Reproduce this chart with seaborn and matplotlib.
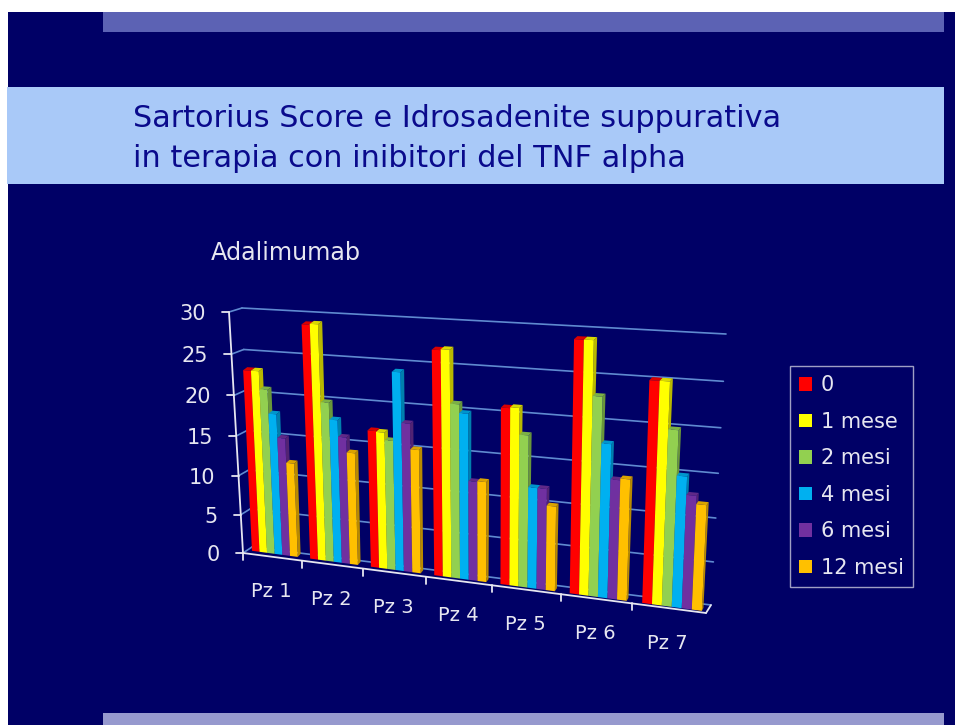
import numpy as np
import pandas as pd
import matplotlib
matplotlib.use("Agg")
import matplotlib.pyplot as plt
import seaborn as sns
from matplotlib.colors import to_rgb
from matplotlib.lines import Line2D
from matplotlib.patches import Polygon, Rectangle
from matplotlib.transforms import IdentityTransform, Transform

pazienti = ["Pz 1", "Pz 2", "Pz 3", "Pz 4", "Pz 5", "Pz 6", "Pz 7"]
tempi = ["0", "1 mese", "2 mesi", "4 mesi", "6 mesi", "12 mesi"]
colori = ["#FF0000", "#FFFF00", "#92D050", "#00B0F0", "#7030A0", "#FFC000"]
tick_y = [0, 5, 10, 15, 20, 25, 30]

mese_0 = [22.8, 28.7, 16.7, 26.6, 20.6, 28.6, 24.7]
mese_1 = [22.8, 28.8, 16.6, 26.7, 20.7, 28.6, 24.7]
mese_2 = [20.6, 19.6, 15.7, 20.6, 17.7, 22.6, 19.6]
mese_4 = [17.7, 17.6, 23.8, 19.6, 11.8, 17.5, 14.7]
mese_6 = [14.8, 15.6, 17.9, 11.8, 11.8, 13.6, 12.7]
mese_12 = [11.8, 13.8, 14.9, 11.9, 9.9, 13.8, 11.8]

W, H = 955, 725
NAVY = "#000066"
WHITE = "#E6E6F0"
GRID = "#5F8AD0"

sns.set_theme(style="white")
plt.rcParams["font.family"] = ["DejaVu Sans"]


def homography(corners):
    # corners: pixel points for (-0.5,0) (6.5,0) (-0.5,30) (6.5,30)
    src = [(-0.5, 0), (6.5, 0), (-0.5, 30), (6.5, 30)]
    A, b = [], []
    for (x, y), (u, v) in zip(src, corners):
        A.append([x, y, 1, 0, 0, 0, -u * x, -u * y])
        A.append([0, 0, 0, x, y, 1, -v * x, -v * y])
        b += [u, v]
    return np.append(np.linalg.solve(np.array(A, float), np.array(b, float)), 1).reshape(3, 3)


class Prospettiva(Transform):
    input_dims = 2
    output_dims = 2
    is_affine = False

    def __init__(self, corners):
        super().__init__()
        self.m = homography(corners)

    def transform_non_affine(self, values):
        values = np.asarray(values, float)
        pts = np.column_stack([values, np.ones(len(values))]) @ self.m.T
        return np.column_stack([pts[:, 0] / pts[:, 2], H - pts[:, 1] / pts[:, 2]])


piano_barre = Prospettiva([(246, 550), (710, 612), (234, 310), (723, 333)])
piano_dietro = Prospettiva([(249, 547), (711.5, 609), (238.5, 307), (726, 330)])
parete = Prospettiva([(252, 547), (711, 605), (242, 308), (726, 334)])
asse = Prospettiva([(243, 553), (706, 613), (229, 312), (722, 339)])

fig = plt.figure(figsize=(W / 100, H / 100), dpi=100, facecolor="white")

# slide background, in pixel coordinates
bg = fig.add_axes([0, 0, 1, 1])
bg.set_xlim(0, W)
bg.set_ylim(H, 0)
bg.axis("off")
bg.add_patch(Rectangle((8, 12), 947, 713, color=NAVY, lw=0))
bg.add_patch(Rectangle((103, 12), 841, 20, color="#5C62B4", lw=0))
bg.add_patch(Rectangle((7, 87), 937, 97, color="#A9C9F8", lw=0))
bg.add_patch(Rectangle((103, 713), 841, 12, color="#9699CE", lw=0))
bg.text(133, 118, "Sartorius Score e Idrosadenite suppurativa", fontsize=21.8, color="#0A0A8C", va="center")
bg.text(133, 158, "in terapia con inibitori del TNF alpha", fontsize=21.9, color="#0A0A8C", va="center")
bg.text(211, 253, "Adalimumab", fontsize=17.2, color=WHITE, va="center")

df = pd.DataFrame({"Pz": pazienti, "0": mese_0, "1 mese": mese_1, "2 mesi": mese_2,
                   "4 mesi": mese_4, "6 mesi": mese_6, "12 mesi": mese_12})
df = df.melt(id_vars="Pz", var_name="tempo", value_name="score")

ax = fig.add_axes([0.2, 0.15, 0.55, 0.45])
ax.patch.set_visible(False)
sns.barplot(data=df, x="Pz", y="score", hue="tempo", hue_order=tempi, order=pazienti,
            palette=colori, saturation=1, width=0.79, gap=0, linewidth=0, errorbar=None, ax=ax)
ax.axis("off")
ax.set_xlim(-0.5, 6.5)
ax.set_ylim(0, 30)

# back wall gridlines
for t in tick_y:
    ax.add_line(Line2D([-0.5, 6.5], [t, t], color=GRID, lw=1.2, transform=parete, clip_on=False, zorder=1))
    a = asse.transform([[-0.5, t]])[0]
    b = parete.transform([[-0.5, t]])[0]
    ax.add_line(Line2D([a[0], b[0]], [a[1], b[1]], color=GRID, lw=1.2, transform=IdentityTransform(),
                       clip_on=False, zorder=1))

# bars with side and top faces
barre = sorted(ax.patches, key=lambda p: p.get_x())
for i, p in enumerate(barre):
    x0, y1, w = p.get_x(), p.get_height(), p.get_width()
    x1 = x0 + w
    rgb = np.array(to_rgb(p.get_facecolor()))
    fronte = piano_barre.transform([[x0, y1], [x1, y1], [x1, 0]])
    retro = piano_dietro.transform([[x0, y1], [x1, y1], [x1, 0]])
    z = 3 + i * 0.01
    ax.add_patch(Polygon([fronte[1], fronte[2], retro[2], retro[1]], closed=True, facecolor=rgb * 0.72, lw=0,
                         transform=IdentityTransform(), clip_on=False, zorder=z))
    ax.add_patch(Polygon([fronte[0], fronte[1], retro[1], retro[0]], closed=True, facecolor=rgb * 0.85, lw=0,
                         transform=IdentityTransform(), clip_on=False, zorder=z))
    p.set_transform(piano_barre)
    p.set_clip_on(False)
    p.set_zorder(z + 0.001)

# front axes, ticks and labels
bordo = dict(color=WHITE, lw=1.3, clip_on=False, zorder=5)
ax.add_line(Line2D([-0.5, -0.5], [0, 30], transform=asse, **bordo))
ax.add_line(Line2D([-0.5, 6.5], [0, 0], transform=asse, **bordo))
a = asse.transform([[6.5, 0]])[0]
b = parete.transform([[6.5, 0]])[0]
ax.add_line(Line2D([a[0], b[0]], [a[1], b[1]], transform=IdentityTransform(), **bordo))
for t in tick_y:
    px = asse.transform([[-0.5, t]])[0]
    ax.add_line(Line2D([px[0] - 7, px[0]], [px[1], px[1]], transform=IdentityTransform(), **bordo))
    bg.text(px[0] - 23, H - px[1] + 2, str(t), fontsize=15, color=WHITE, ha="right", va="center")
for k, nome in enumerate(pazienti):
    px = asse.transform([[k - 0.5, 0]])[0]
    ax.add_line(Line2D([px[0], px[0]], [px[1], px[1] - 7], transform=IdentityTransform(), **bordo))
    px = asse.transform([[k, 0]])[0]
    bg.text(px[0] - 1, H - px[1] + 35, nome, fontsize=14, color=WHITE, ha="center", va="center")

sns.move_legend(ax, "upper left", bbox_to_anchor=(789.5 / W, 1 - 366 / H), bbox_transform=fig.transFigure,
                title=None, frameon=True, fancybox=False, edgecolor="#C8C8DC",
                borderaxespad=0, fontsize=15, labelcolor=WHITE, handlelength=0.625, handleheight=0.625,
                handletextpad=0.43, labelspacing=0.79, borderpad=0.45)
ax.get_legend().get_frame().set_facecolor("none")

fig.savefig("out.png", dpi=100)
